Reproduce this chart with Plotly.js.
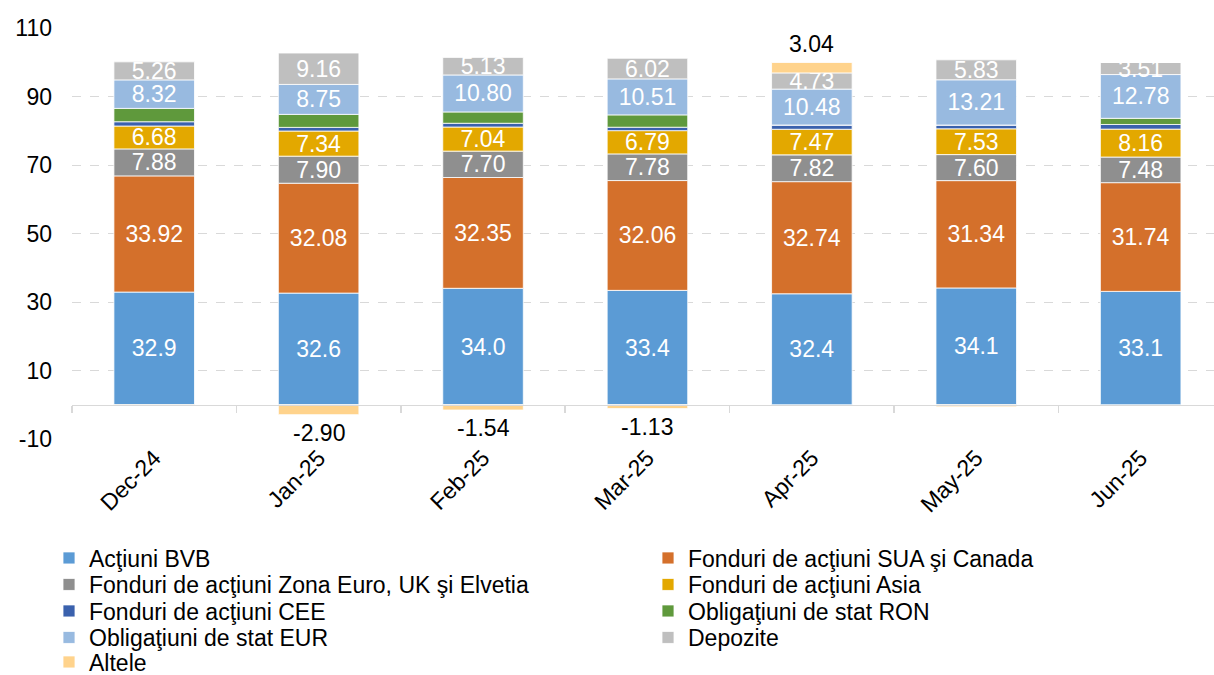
<!DOCTYPE html>
<html>
<head>
<meta charset="utf-8">
<script src="https://cdn.plot.ly/plotly-3.0.1.min.js"></script>
<style>
  html, body { margin: 0; padding: 0; background: #fff; }
  #chart { width: 1214px; height: 675px; }
</style>
</head>
<body>
<div id="chart"></div>
<script>
let months = ["Dec-24", "Jan-25", "Feb-25", "Mar-25", "Apr-25", "May-25", "Jun-25"];

let actiuni_bvb = [32.9, 32.6, 34.0, 33.4, 32.4, 34.1, 33.1];
let fonduri_sua = [33.92, 32.08, 32.35, 32.06, 32.74, 31.34, 31.74];
let fonduri_euro = [7.88, 7.90, 7.70, 7.78, 7.82, 7.60, 7.48];
let fonduri_asia = [6.68, 7.34, 7.04, 6.79, 7.47, 7.53, 8.16];
let fonduri_cee = [1.25, 1.06, 1.1, 1.0, 1.25, 1.1, 1.35];
let oblig_ron = [3.9, 3.8, 3.3, 3.6, 0, 0, 1.8];
let oblig_eur = [8.32, 8.75, 10.80, 10.51, 10.48, 13.21, 12.78];
let depozite = [5.26, 9.16, 5.13, 6.02, 4.73, 5.83, 3.51];
let altele = [-0.3, -2.90, -1.54, -1.13, 3.04, -0.6, 0];

let y_ticks = [-10, 10, 30, 50, 70, 90, 110];
let y_tick_labels = ["-10", "10", "30", "50", "70", "90", "110"];

let font = "Liberation Sans, Arial, sans-serif";
let fs = 23;

function series(name, values, color, fmt) {
	let t = {
		type: 'bar',
		name: name,
		x: months,
		y: values,
		marker: {color: color, line: {color: '#ffffff', width: 0.8}},
		hoverinfo: 'skip',
		textangle: 0,
		constraintext: 'none',
		cliponaxis: false
	};
	if (fmt) {
		t.texttemplate = fmt;
		t.textposition = 'inside';
		t.insidetextanchor = 'middle';
		t.insidetextfont = {color: '#ffffff', size: fs, family: font};
	} else {
		t.textposition = 'none';
	}
	return t;
}

let traces = [
	series('Acţiuni BVB', actiuni_bvb, '#5B9BD5', '%{y:.1f}'),
	series('Fonduri de acţiuni SUA şi Canada', fonduri_sua, '#D4702B', '%{y:.2f}'),
	series('Fonduri de acţiuni Zona Euro, UK şi Elvetia', fonduri_euro, '#8F8F8F', '%{y:.2f}'),
	series('Fonduri de acţiuni Asia', fonduri_asia, '#E3A800', '%{y:.2f}'),
	series('Fonduri de acţiuni CEE', fonduri_cee, '#3A61AD', null),
	series('Obligaţiuni de stat RON', oblig_ron, '#5F993C', null),
	series('Obligaţiuni de stat EUR', oblig_eur, '#98BAE0', '%{y:.2f}'),
	series('Depozite', depozite, '#BFBFBF', '%{y:.2f}'),
	series('Altele', altele, '#FFD38C', null)
];

// one small legend per entry, two columns like the original
let legends = {};
let colX = [49, 648];
let rowY = [558, 584.5, 611, 637.5, 662];
traces.forEach(function(t, i) {
	let key = i === 0 ? 'legend' : 'legend' + (i + 1);
	t.legend = key;
	legends[key] = {
		orientation: 'h',
		xref: 'container', yref: 'container',
		x: colX[i % 2] / 1214,
		y: 1 - rowY[Math.floor(i / 2)] / 675,
		xanchor: 'left', yanchor: 'middle',
		itemwidth: 30,
		font: {family: font, size: fs, color: '#000000'},
		bgcolor: 'rgba(0,0,0,0)',
		borderwidth: 0
	};
});

// invisible helper trace so the axis drawn at zero exists
traces.push({
	type: 'bar', x: months, y: months.map(() => 0), xaxis: 'x2', yaxis: 'y',
	showlegend: false, hoverinfo: 'skip', marker: {color: 'rgba(0,0,0,0)'}
});

// Altele labels, outside the stack
let positives = [actiuni_bvb, fonduri_sua, fonduri_euro, fonduri_asia, fonduri_cee, oblig_ron, oblig_eur, depozite];
let annotations = [];
for (let i = 0; i < months.length; i++) {
	let v = altele[i];
	if (Math.abs(v) < 1) continue;
	let top = 0;
	for (let s of positives) top += s[i];
	annotations.push({
		x: months[i], y: v < 0 ? v : top + v,
		xref: 'x', yref: 'y',
		text: v.toFixed(2), showarrow: false,
		yanchor: v < 0 ? 'top' : 'bottom',
		yshift: v < 0 ? -3 : 3,
		font: {family: font, size: fs, color: '#000000'}
	});
}

let ymin = -10, ymax = 110;
let xrange = [-0.5, 6.446];

let layout = Object.assign({
	width: 1214,
	height: 675,
	margin: {l: 72, r: 0, t: 28, b: 236},
	paper_bgcolor: '#ffffff',
	plot_bgcolor: '#ffffff',
	barmode: 'relative',
	bargap: 0.51,
	font: {family: font, size: fs, color: '#000000'},
	showlegend: true,
	xaxis: {
		type: 'category',
		range: xrange,
		showline: false,
		showgrid: false,
		zeroline: false,
		ticks: '',
		tickangle: -45,
		tickfont: {family: font, size: fs, color: '#000000'}
	},
	xaxis2: {
		type: 'category',
		overlaying: 'x',
		range: xrange,
		anchor: 'free',
		position: (0 - ymin) / (ymax - ymin),
		side: 'bottom',
		showline: true,
		linecolor: '#d9d9d9',
		linewidth: 1.5,
		ticks: 'outside',
		tickson: 'boundaries',
		ticklen: 7,
		tickcolor: '#d9d9d9',
		tickwidth: 1.5,
		showticklabels: false,
		showgrid: false,
		zeroline: false
	},
	yaxis: {
		range: [ymin, ymax],
		tickvals: y_ticks,
		ticktext: y_tick_labels,
		showline: false,
		zeroline: false,
		showgrid: true,
		gridcolor: '#d9d9d9',
		griddash: 'dash',
		gridwidth: 1,
		ticks: '',
		ticklabelstandoff: 19,
		tickfont: {family: font, size: fs, color: '#000000'}
	},
	annotations: annotations
}, legends);

Plotly.newPlot('chart', traces, layout, {displayModeBar: false, staticPlot: true});
</script>
</body>
</html>
